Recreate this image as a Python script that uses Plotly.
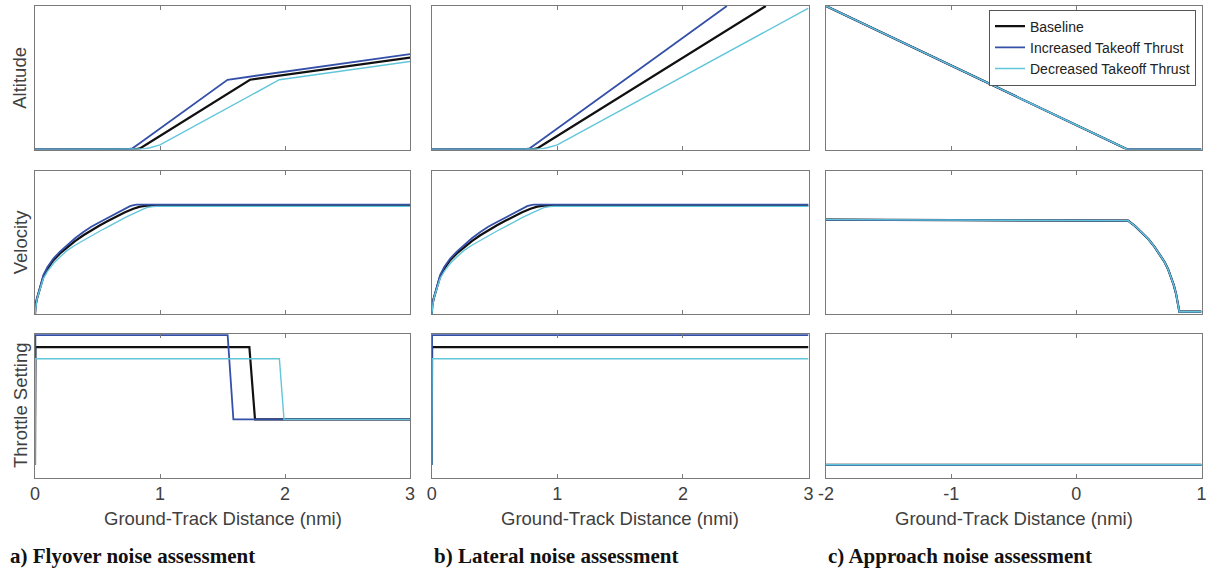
import plotly.graph_objects as go
from plotly.subplots import make_subplots

W, H = 1208, 576

# ---------------- data ----------------
series_names = ["Baseline", "Increased Takeoff Thrust", "Decreased Takeoff Thrust"]
series_colors = ["#111111", "#3450A8", "#62C6DA"]
series_widths = [2.2, 1.8, 1.4]

# a) Flyover: altitude
fly_alt_x = [
    [0, 0.76, 0.80, 0.84, 0.90, 1.72, 3.0],
    [0, 0.70, 0.74, 0.78, 0.84, 1.54, 3.0],
    [0, 0.80, 0.86, 0.92, 1.00, 1.955, 3.0],
]
fly_alt_y = [
    [0, 0, 2, 8, 40, 486, 641],
    [0, 0, 2, 8, 45, 486, 665],
    [0, 0, 3, 12, 32, 486, 613],
]

# b) Lateral: altitude
lat_alt_x = [
    [0, 0.76, 0.80, 0.84, 0.90, 2.66],
    [0, 0.70, 0.74, 0.78, 0.84, 2.35],
    [0, 0.80, 0.86, 0.92, 1.00, 3.0],
]
lat_alt_y = [
    [0, 0, 2, 8, 40, 1000],
    [0, 0, 2, 8, 45, 1000],
    [0, 0, 3, 12, 32, 985],
]

# takeoff velocity (flyover and lateral)
to_vel_x = [
    [0, 0.005, 0.015, 0.027, 0.045, 0.067, 0.10, 0.147, 0.20, 0.253, 0.32, 0.387, 0.45, 0.52, 0.59, 0.653, 0.72, 0.787, 0.84, 0.893, 3.0],
    [0, 0.005, 0.015, 0.027, 0.045, 0.067, 0.10, 0.147, 0.20, 0.253, 0.32, 0.387, 0.45, 0.52, 0.59, 0.653, 0.71, 0.76, 0.79, 0.813, 3.0],
    [0, 0.005, 0.015, 0.027, 0.045, 0.067, 0.10, 0.147, 0.20, 0.253, 0.32, 0.387, 0.45, 0.52, 0.59, 0.653, 0.72, 0.787, 0.84, 0.893, 0.94, 0.973, 3.0],
]
to_vel_y = [
    [0, 12, 21, 28.7, 40.5, 51.9, 63.0, 75.0, 84.5, 92.6, 101.5, 109.7, 116.8, 123.6, 130.2, 136.1, 141.8, 146.8, 149.6, 151.0, 151.0],
    [0, 12, 21, 29.5, 42.5, 54.2, 65.5, 77.3, 87.0, 95.8, 105.5, 114.3, 121.5, 128.2, 134.8, 140.7, 146.0, 150.4, 151.8, 152.3, 152.3],
    [0, 11, 20, 27.5, 38.5, 49.5, 59.5, 70.4, 79.5, 88.0, 95.8, 102.8, 109.3, 115.7, 122.1, 128.2, 134.2, 139.8, 144.5, 148.2, 149.6, 150.0, 150.0],
]

# a) Flyover: throttle
fly_thr_x = [
    [0, 0.003, 1.715, 1.76, 3.0],
    [0, 0.003, 1.541, 1.587, 3.0],
    [0, 0.003, 1.955, 1.992, 3.0],
]
fly_thr_y = [
    [0.09, 0.91, 0.91, 0.407, 0.407],
    [0.09, 0.995, 0.995, 0.407, 0.407],
    [0.09, 0.83, 0.83, 0.407, 0.407],
]

# b) Lateral: throttle
lat_thr_x = [[0, 0.003, 3.0]] * 3
lat_thr_y = [
    [0.09, 0.91, 0.91],
    [0.09, 0.995, 0.995],
    [0.09, 0.83, 0.83],
]

# c) Approach (same for all three series)
app_alt_x = [-2.0, 0.41, 1.0]
app_alt_y = [1000, 0, 0]
app_vel_x = [-2.0, 0.413, 0.47, 0.519, 0.575, 0.625, 0.667, 0.704, 0.733, 0.757, 0.778, 0.796, 0.807, 0.815, 0.823, 1.0]
app_vel_y = [131.5, 130.1, 122.5, 114.3, 104.5, 93.5, 83.0, 72.7, 62.5, 51.9, 40.5, 28.7, 19.5, 10.2, 3.2, 3.2]
app_thr_x = [-2.0, 1.0]
app_thr_y = [0.09, 0.09]

x_ticks_to = [0, 1, 2, 3]
x_ticks_app = [-2, -1, 0, 1]
row_titles = ["Altitude", "Velocity", "Throttle Setting"]
x_title = "Ground-Track Distance (nmi)"
captions = ["a) Flyover noise assessment", "b) Lateral noise assessment", "c) Approach noise assessment"]

# ---------------- figure ----------------
fig = make_subplots(rows=3, cols=3)

def add(xs, ys, r, c, legend=False):
    for i in range(3):
        fig.add_trace(go.Scatter(
            x=xs[i], y=ys[i], mode="lines", name=series_names[i],
            line=dict(color=series_colors[i], width=series_widths[i]),
            showlegend=legend, hoverinfo="skip"), row=r, col=c)

add(fly_alt_x, fly_alt_y, 1, 1)
add(to_vel_x, to_vel_y, 2, 1)
add(fly_thr_x, fly_thr_y, 3, 1)
add(lat_alt_x, lat_alt_y, 1, 2)
add(to_vel_x, to_vel_y, 2, 2)
add(lat_thr_x, lat_thr_y, 3, 2)
add([app_alt_x] * 3, [app_alt_y] * 3, 1, 3, legend=True)
add([app_vel_x] * 3, [app_vel_y] * 3, 2, 3)
add([app_thr_x] * 3, [app_thr_y] * 3, 3, 3)

xdom = [(35, 410), (431.7, 808.5), (826, 1201.5)]
ydom = [(6, 149.5), (170.5, 314), (334.3, 477.7)]
yr = [[0, 1000], [0, 200], [0, 1]]

axcol = "#7a7a7a"
txtcol = "#404040"
font = "Liberation Sans, Arial, sans-serif"

for r in range(3):
    for c in range(3):
        idx = r * 3 + c + 1
        xa = "xaxis" if idx == 1 else f"xaxis{idx}"
        ya = "yaxis" if idx == 1 else f"yaxis{idx}"
        xr = [-2, 1] if c == 2 else [0, 3]
        tv = x_ticks_app if c == 2 else x_ticks_to
        fig.layout[xa].update(
            domain=[xdom[c][0] / W, xdom[c][1] / W], range=xr,
            tickvals=tv, ticktext=[str(t) for t in tv],
            showticklabels=(r == 2), ticks="inside", ticklen=4, tickcolor=axcol,
            showline=True, linecolor=axcol, linewidth=1, mirror="ticks",
            showgrid=False, zeroline=False, automargin=False,
            ticklabeloverflow="allow",
            tickfont=dict(family=font, size=18, color=txtcol),
        )
        fig.layout[ya].update(
            domain=[1 - ydom[r][1] / H, 1 - ydom[r][0] / H], range=yr[r],
            showticklabels=False, ticks="",
            showline=True, linecolor=axcol, linewidth=1, mirror=True,
            showgrid=False, zeroline=False, automargin=False,
        )

# y-axis titles
for r in range(3):
    yc = (ydom[r][0] + ydom[r][1]) / 2
    fig.add_annotation(text=row_titles[r], xref="paper", yref="paper",
                       x=20 / W, y=1 - yc / H, xanchor="center", yanchor="middle",
                       textangle=-90, showarrow=False,
                       font=dict(family=font, size=18.5, color=txtcol))

# x-axis titles
for c in range(3):
    xc = (xdom[c][0] + xdom[c][1]) / 2
    fig.add_annotation(text=x_title, xref="paper", yref="paper",
                       x=xc / W, y=1 - 518 / H, xanchor="center", yanchor="middle",
                       showarrow=False,
                       font=dict(family=font, size=18.5, color=txtcol))

cap_x = [8, 432, 826]
for i, t in enumerate(captions):
    fig.add_annotation(text=f"<b>{t}</b>", xref="paper", yref="paper",
                       x=cap_x[i] / W, y=1 - 556 / H, xanchor="left", yanchor="middle",
                       showarrow=False,
                       font=dict(family="Liberation Serif, Times New Roman, serif", size=21, color="#111111"))

fig.update_layout(
    width=W, height=H, margin=dict(l=0, r=0, t=0, b=0),
    paper_bgcolor="white", plot_bgcolor="white",
    legend=dict(x=989 / W, y=1 - 9.5 / H, xanchor="left", yanchor="top",
                bordercolor="#555555", borderwidth=1, bgcolor="white",
                font=dict(family=font, size=14, color="#222222"),
                tracegroupgap=0, itemwidth=30),
)

fig.write_html("out.html")
